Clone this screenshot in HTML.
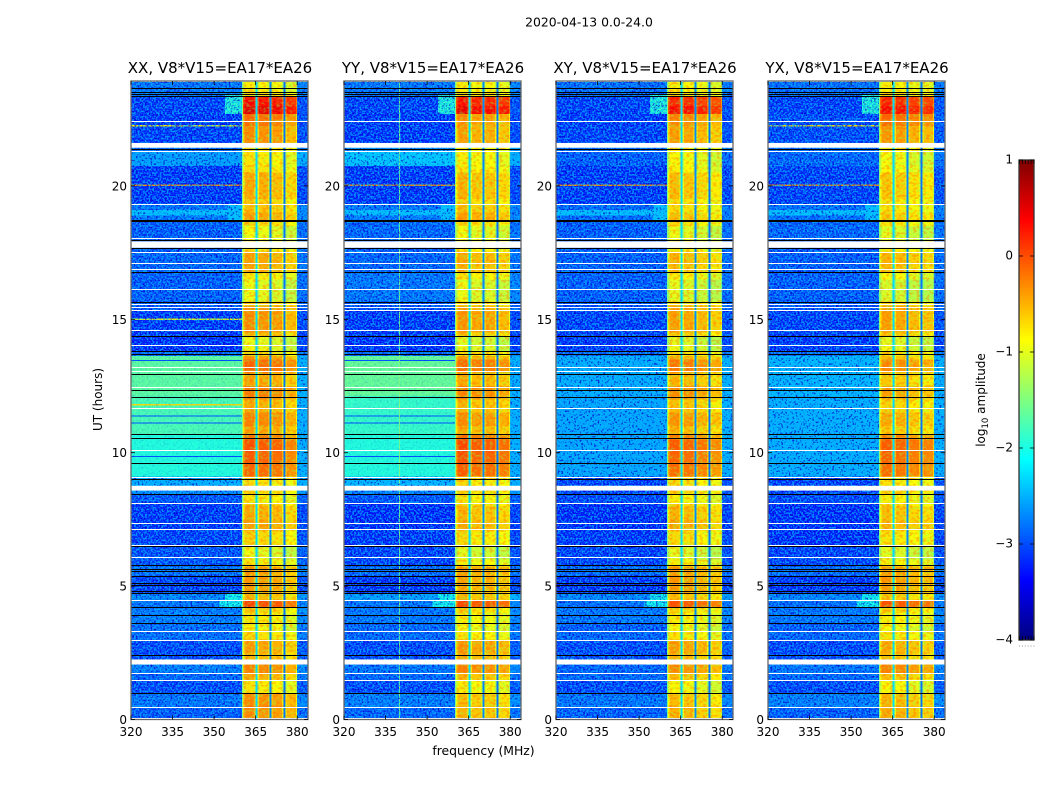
<!DOCTYPE html>
<html lang="en">
<head>
<meta charset="utf-8">
<title>2020-04-13 0.0-24.0</title>
<style>
html,body{margin:0;padding:0;background:#fff;}
body{width:1050px;height:800px;overflow:hidden;}
svg{display:block;}
text{font-family:"DejaVu Sans","Liberation Sans",sans-serif;fill:#000;}
.tick{font-size:12px;}
.ptitle{font-size:15px;text-anchor:middle;}
</style>
</head>
<body>
<svg id="fig" width="1050" height="800" viewBox="0 0 1050 800" xmlns="http://www.w3.org/2000/svg">
  <defs>
    <filter id="speckle" x="0" y="0" width="1" height="1" color-interpolation-filters="sRGB">
      <feTurbulence type="fractalNoise" baseFrequency="0.55" numOctaves="1" seed="7" result="n"/>
      <feColorMatrix in="n" type="matrix" values="0 0 0 0 0  0 0 0 0 0.72  0 0 0 0 1  8 0 0 0 -3.8" result="light"/>
      <feColorMatrix in="n" type="matrix" values="0 0 0 0 0  0 0 0 0 0  0 0 0 0 0.8  0 6 0 0 -3" result="dark"/>
      <feMerge><feMergeNode in="dark"/><feMergeNode in="light"/></feMerge>
    </filter>
    <filter id="bandspeckle" x="0" y="0" width="1" height="1" color-interpolation-filters="sRGB">
      <feTurbulence type="fractalNoise" baseFrequency="0.3 0.4" numOctaves="1" seed="11" result="n"/>
      <feColorMatrix in="n" type="matrix" values="0 0 0 0 0.55  0 0 0 0 1  0 0 0 0 0.3  7 0 0 0 -3.5" result="pale"/>
      <feColorMatrix in="n" type="matrix" values="0 0 0 0 1  0 0 0 0 0.4  0 0 0 0 0  0 7 0 0 -3.5" result="warm"/>
      <feMerge><feMergeNode in="pale"/><feMergeNode in="warm"/></feMerge>
    </filter>
  </defs>
  <text x="589" y="26.5" font-size="12.4" text-anchor="middle">2020-04-13 0.0-24.0</text>
  <text x="483.5" y="755" font-size="12.4" text-anchor="middle">frequency (MHz)</text>
  <text x="0" y="0" font-size="12" text-anchor="middle" transform="translate(102,399.5) rotate(-90)">UT (hours)</text>
  <text x="0" y="0" font-size="12" text-anchor="middle" transform="translate(985,400) rotate(-90)">log<tspan font-size="8.5" dy="3">10</tspan><tspan dy="-3"> amplitude</tspan></text>
  <g id="panels"></g>
  <g id="cbar"></g>
</svg>
<script>
// ---- chart data ----
const panelNames = ['XX', 'YY', 'XY', 'YX'];
const titleSuffix = ', V8*V15=EA17*EA26';
const freqTicks = [320, 335, 350, 365, 380];
const hourTicks = [0, 5, 10, 15, 20];
const colorTicks = [1, 0, -1, -2, -3, -4];
const colorTickLabels = ['1', '0', '\u22121', '\u22122', '\u22123', '\u22124'];

const hourEdges = [0,0.45,0.97,1.46,1.72,2.06,2.25,2.96,3.3,3.6,
  4.2,4.46,4.72,5.4,5.73,6.5,7.08,8.09,8.43,8.76,
  9.1,10.7,12.13,13.63,13.82,14.38,15.32,15.66,16.74,17.57,
  17.98,18.69,19.33,20.75,21.3,21.6,22.25,22.7,23.33,23.9];

// log10 amplitude of 320-360 MHz background per time row
const bgXX = [-3,-2.85,-3.1,-2.95,-2.8,-3,-3.1,-2.9,-2.9,-2.8,
  -2.85,-2.75,-3.15,-2.85,-3.05,-3.15,-3.2,-3.05,-2.7,-2.5,
  -1.95,-1.75,-1.65,-2.9,-3.25,-3.2,-3.05,-3,-2.95,-3.05,
  -3,-2.85,-3.2,-2.6,-2.9,-3.15,-3.2,-3.15,-2.85];
const bgYY = [-2.95,-2.8,-3.1,-2.95,-2.85,-3,-3.1,-2.95,-2.95,-2.85,
  -2.85,-2.6,-3.2,-2.9,-3.15,-3.2,-3.25,-3.05,-2.75,-2.45,
  -1.95,-1.85,-1.6,-2.9,-3.25,-3.2,-3.05,-2.85,-2.95,-3.05,
  -2.95,-2.85,-3.2,-2.35,-2.7,-3.2,-3.2,-3.15,-2.85];
const bgXY = [-3,-2.85,-3.1,-2.95,-2.95,-3,-3.1,-2.95,-3,-2.85,
  -2.9,-2.75,-3.2,-2.9,-3.15,-3.2,-3.25,-3.1,-3.15,-3.15,
  -2.55,-2.55,-2.5,-2.9,-3.2,-3.15,-3.05,-3,-3,-3.05,
  -3,-2.9,-3.2,-3,-2.9,-3.15,-3.2,-3.15,-2.9];
const bgYX = [-3,-2.8,-3.1,-2.95,-2.85,-3,-3.1,-2.95,-3,-2.85,
  -2.9,-2.75,-3.2,-2.9,-3.15,-3.25,-3.25,-3.1,-3.15,-3.15,
  -2.5,-2.5,-2.45,-2.9,-3.2,-3.15,-3.05,-3,-3,-3.05,
  -2.95,-2.9,-3.15,-2.95,-2.9,-3.1,-3.1,-3.15,-2.9];

// log10 amplitude of the 360-380 MHz passband per time row
const bandXX = [-0.55,-0.45,-0.75,-0.55,-0.35,-0.6,-0.6,-0.65,-0.8,-0.8,
  -0.15,-0.6,-0.5,-0.55,-0.95,-0.8,-0.6,-0.75,-0.7,-0.8,
  -0.25,-0.45,-0.4,-0.7,-0.95,-0.5,-0.55,-0.95,-0.65,-0.8,
  -0.9,-0.65,-0.7,-0.75,-0.7,-0.5,-0.35,0.3,-0.75];
const bandYY = [-0.75,-0.7,-0.8,-0.6,-0.35,-0.6,-0.55,-0.7,-0.85,-0.85,
  -0.15,-0.6,-0.55,-0.55,-1,-0.85,-0.65,-0.75,-0.7,-0.8,
  -0.2,-0.5,-0.45,-0.75,-1,-0.55,-0.6,-0.95,-0.7,-0.85,
  -0.9,-0.65,-0.75,-0.8,-0.75,-0.6,-0.55,0.25,-0.75];
const bandXY = [-0.75,-0.7,-0.85,-0.65,-0.4,-0.6,-0.6,-0.7,-0.85,-0.85,
  -0.2,-0.65,-0.5,-0.55,-1,-0.85,-0.65,-0.8,-0.7,-0.8,
  -0.3,-0.55,-0.5,-0.75,-1,-0.6,-0.6,-1,-0.75,-0.85,
  -0.95,-0.8,-0.8,-0.85,-0.75,-0.6,-0.5,0.15,-0.75];
const bandYX = [-0.7,-0.65,-0.85,-0.65,-0.35,-0.6,-0.65,-0.7,-0.85,-0.85,
  -0.2,-0.7,-0.5,-0.55,-1,-0.9,-0.7,-0.8,-0.7,-0.85,
  -0.3,-0.65,-0.6,-0.75,-1,-0.6,-0.6,-1.05,-0.75,-0.85,
  -1,-0.85,-0.85,-0.9,-0.75,-0.55,-0.35,0.15,-0.75];

// half-hour variation of the passband, shared by all panels
const bandRipple = [0.15,0.05,-0.1,0,0,0.1,-0.15,-0.05,0.1,0,
  0.05,0.1,-0.1,0.05,0.1,0.05,-0.1,0,0.05,0.1,
  0.15,-0.05,0.1,-0.1,0.1,-0.1,0.2,-0.05,-0.1,0.1,
  0.1,-0.1,-0.1,0.1,0.15,-0.05,-0.1,0.15,0,0.15,
  0.15,-0.1,-0.1,0.1,0.1,0.15,0,-0.15];

// offset of each of the four sub-bands from the passband level
const subXX = [0.1, 0.05, 0, -0.15];
const subYY = [0.1, 0, 0, -0.1];
const subXY = [0.1, 0.05, -0.05, -0.15];
const subYX = [0.1, 0.05, -0.05, -0.1];

const whiteLines = [22.43,21.3,19.31,18.04,17.49,17.08,16.85,16.1,15.54,15.43,15.32,14.57,14.01,13.18,13.03,12.43,
  11.64,10.1,9.07,8.09,7.35,7.12,6.53,6.06,5.61,4.47,3.31,2.95,1.71,1.46,0.45,0.04];
const whiteGapStarts = [21.43,17.68,8.58,2.06];
const whiteGapEnds = [21.61,17.92,8.76,2.25];
const blackLines = [23.64,23.49,23.42,23.34,21.35,18.71,18.65,17.97,17.67,16.74,15.63,14.37,13.81,13.67,12.92,12.35,12.06,
  10.7,10.55,9.58,8.98,8.42,6.48,5.78,5.64,5.55,5.37,5.1,5.02,4.81,4.73,4.18,3.91,3.58,2.41,0.99];
const blueLineHours = [13.45,11.37,11.12,9.85];
const blueLineLevel = -3;
const rfiHours = [20.03,20.03,20.03,20.03,22.25,22.25,15,11.8];
const rfiPanels = [0,1,2,3,0,3,0,0];
const rfiLevels = [-0.3,-0.3,-0.3,-0.3,-0.8,-0.7,-0.9,-0.7];
const patchHourStart = [22.7,4.2,4.46,18.7,18.9];
const patchHourEnd = [23.4,4.46,4.72,19.3,19.1];
const patchFreqStart = [354,352,354,355,320];
const patchFreqEnd = [360,360,360,360,355];
const patchLevel = [-1.9,-2.0,-2.0,-2.4,-2.4];
const rfiColumnPanels = [1];
const rfiColumnFreqs = [340];
const rfiColumnLevels = [-1.5];

// ---- axes ----
const panelLefts = [131, 344, 556, 768];
const panelWidth = 177, plotTop = 81, plotBottom = 719.5;
const hourToPx = h => 719.5 - h * 26.68;
const snapPx = y => Math.round(y - 0.5) + 0.5;
const freqScale = (f, left) => left + (f - 320) * 2.77;
const colorPx = v => 640 - (v + 4) * 96;

function clip(x){return Math.max(0, Math.min(1, x));}
function jet(v){
  const t = clip((v + 4) / 5);
  const ch = c => Math.round(255 * clip(1.5 - Math.abs(4 * t - c)));
  return 'rgb(' + ch(3) + ',' + ch(2) + ',' + ch(1) + ')';
}
const NS = 'http://www.w3.org/2000/svg';
function make(tag, parent, props){
  const el = document.createElementNS(NS, tag);
  for (const k in props) el.setAttribute(k, props[k]);
  parent.appendChild(el);
  return el;
}
const bgSeries = [bgXX, bgYY, bgXY, bgYX];
const bandSeries = [bandXX, bandYY, bandXY, bandYX];
const subSeries = [subXX, subYY, subXY, subYX];
const bandStarts = [360.5, 365.7, 370.7, 375.7];
const bandEnds = [365, 370, 375, 380];
const gapLevels = [-2.3, -2.7, -2.8];

const panelsRoot = document.getElementById('panels');
panelNames.forEach((name, p) => {
  const left = panelLefts[p];
  const lower = name.toLowerCase();
  const g = make('g', panelsRoot, {});
  
  
  const x = f => freqScale(f, left);

  const cell = (f0, f1, h0, h1, v) => {
    const r = make('rect', g, {x: x(f0).toFixed(2), y: hourToPx(h1).toFixed(2),
      width: (x(f1) - x(f0)).toFixed(2), height: (hourToPx(h0) - hourToPx(h1)).toFixed(2),
      fill: jet(v), 'shape-rendering': 'crispEdges'});
    
    
    return r;
  };

  for (let i = 0; i < hourEdges.length - 1; i++) {
    const h0 = hourEdges[i], h1 = hourEdges[i + 1];
    const bg = bgSeries[p][i], band = bandSeries[p][i], sub = subSeries[p];
    cell(320, 360, h0, h1, bg);
    cell(360, 360.5, h0, h1, Math.max(bg, -1.5));
    cell(380, 384, h0, h1, Math.min(bg + 0.1, -2.5));
    bandStarts.forEach((fs, b) => {
      if (b < 3) cell(bandEnds[b], bandStarts[b + 1], h0, h1, gapLevels[b]);
    });
    // passband cells, split at half-hour boundaries so the ripple applies
    let a = h0;
    while (a < h1 - 1e-6) {
      const bin = Math.floor(a * 2 + 1e-6);
      const e = Math.min(h1, (bin + 1) / 2);
      const rip = bandRipple[Math.min(bin, bandRipple.length - 1)];
      bandStarts.forEach((fs, b) => {
        const fe = bandEnds[b], lv = band + sub[b] + rip;
        cell(fs, fs + 0.45, a, e, lv - 0.35);
        cell(fs + 0.45, fe - 0.45, a, e, lv);
        cell(fe - 0.45, fe, a, e, lv - 0.35);
      });
      a = e;
    }
  }

  patchLevel.forEach((lv, i) => {
    cell(patchFreqStart[i], patchFreqEnd[i], patchHourStart[i], patchHourEnd[i], lv);
  });
  if (p < 2) {
    blueLineHours.forEach(h => {
      cell(320, 360, h - 0.02, h + 0.02, blueLineLevel);
    });
  }
  rfiHours.forEach((h, i) => {
    if (rfiPanels[i] === p) cell(320, 360, h - 0.03, h + 0.03, rfiLevels[i]);
  });
  rfiColumnFreqs.forEach((f, i) => {
    if (rfiColumnPanels[i] === p) cell(f - 0.2, f + 0.2, 0, 23.9, rfiColumnLevels[i]);
  });

  // fine-grain noise texture, weaker on the smooth green rows
  for (let i = 0; i < hourEdges.length - 1; i++) {
    const bg = bgSeries[p][i];
    const top = hourToPx(hourEdges[i + 1]), bot = hourToPx(hourEdges[i]);
    const s = make('rect', g, {x: x(320), y: top.toFixed(2), width: x(360) - x(320),
      height: (bot - top).toFixed(2), fill: '#000', filter: 'url(#speckle)', opacity: bg > -2.2 ? 0.15 : 0.7});
    
    
  }
  const edgeNoise = make('rect', g, {x: x(380), y: plotTop, width: x(384) - x(380),
    height: plotBottom - plotTop, fill: '#000', filter: 'url(#speckle)', opacity: 0.6});
  
  
  bandStarts.forEach((fs, b) => {
    const s = make('rect', g, {x: x(fs), y: plotTop, width: x(bandEnds[b]) - x(fs),
      height: plotBottom - plotTop, fill: '#000', filter: 'url(#bandspeckle)', opacity: 0.35});
    
    
  });

  whiteGapStarts.forEach((h0, i) => {
    const r = make('rect', g, {x: left, width: panelWidth, y: hourToPx(whiteGapEnds[i]),
      height: hourToPx(h0) - hourToPx(whiteGapEnds[i]), fill: '#fff'});
    
    
  });
  whiteLines.forEach(h => {
    const y = snapPx(hourToPx(h));
    const l = make('line', g, {x1: left, x2: left + panelWidth, y1: y, y2: y, stroke: '#fff', 'stroke-width': 1});
    
    
  });
  blackLines.forEach(h => {
    const y = snapPx(hourToPx(h));
    const l = make('line', g, {x1: left, x2: left + panelWidth, y1: y, y2: y, stroke: '#000', 'stroke-width': 1});
    
    
  });

  const frame = make('rect', g, {x: left, y: plotTop, width: panelWidth, height: plotBottom - plotTop,
    fill: 'none', stroke: '#666', 'stroke-width': 1.3});
  
  

  freqTicks.forEach(f => {
    [[plotBottom, plotBottom - 4], [plotTop, plotTop + 4]].forEach(ys => {
      const t = make('line', g, {x1: x(f), x2: x(f), y1: ys[0], y2: ys[1], stroke: '#000', 'stroke-width': 0.8});
      
      
    });
    const lab = make('text', g, {x: x(f), y: 736, 'class': 'tick', 'text-anchor': 'middle'});
    lab.textContent = String(f);
    
    
  });
  hourTicks.forEach(h => {
    [[left, left + 4], [left + panelWidth, left + panelWidth - 4]].forEach(xs => {
      const t = make('line', g, {x1: xs[0], x2: xs[1], y1: hourToPx(h), y2: hourToPx(h), stroke: '#000', 'stroke-width': 0.8});
      
      
    });
    const lab = make('text', g, {x: left - 4, y: hourToPx(h) + 4.5, 'class': 'tick', 'text-anchor': 'end'});
    lab.textContent = String(h);
    
    
  });

  const title = make('text', g, {x: left + panelWidth / 2 + 0.5, y: 73, 'class': 'ptitle'});
  title.textContent = name + titleSuffix;
  
  
});

// ---- colorbar ----
const cbar = document.getElementById('cbar');
const cbLeft = 1019, cbWidth = 15;
for (let y = 160; y < 640; y += 2) {
  const v = -4 + (640 - y - 1) / 96;
  const r = make('rect', cbar, {x: cbLeft, y: y, width: cbWidth, height: 2.2, fill: jet(v), 'shape-rendering': 'crispEdges'});
  
  
}
const cbFrame = make('rect', cbar, {x: cbLeft, y: 160, width: cbWidth, height: 480, fill: 'none', stroke: '#333', 'stroke-width': 1.3});


colorTicks.forEach((v, i) => {
  const y = colorPx(v);
  [[cbLeft, cbLeft + 4], [cbLeft + cbWidth, cbLeft + cbWidth - 4]].forEach(xs => {
    const t = make('line', cbar, {x1: xs[0], x2: xs[1], y1: y, y2: y, stroke: '#000', 'stroke-width': 0.8});
    
    
  });
  const lab = make('text', cbar, {x: 1013, y: y + 3.5, 'class': 'tick', 'text-anchor': 'end'});
  lab.textContent = colorTickLabels[i];
  
  
});
[0, 1, 2, 3, 4, 5].forEach(n => {
  const x = cbLeft + 0.5 + n * 2.9;
  [[160, 164], [640, 636]].forEach(ys => {
    const t = make('line', cbar, {x1: x, x2: x, y1: ys[0], y2: ys[1], stroke: '#000', 'stroke-width': 0.7});
    
    
  });
  const d = make('rect', cbar, {x: x - 0.5, y: 645.5, width: 1, height: 1, fill: '#999'});
  
  
});
</script>
</body>
</html>
